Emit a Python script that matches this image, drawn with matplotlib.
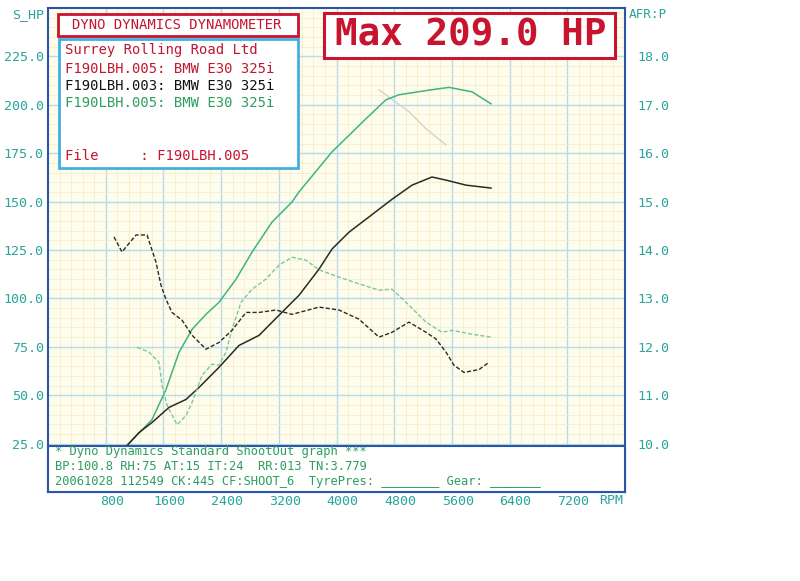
import matplotlib
matplotlib.use("Agg")
import matplotlib.pyplot as plt
import matplotlib.patches as mpatches
from matplotlib.ticker import MultipleLocator, FixedLocator
from matplotlib.transforms import ScaledTranslation

# ── Data read from the dyno sheet ─────────────────────────────────────────────
# Run F190LBH.005 (green) – power
green_rpm = [1095, 1442, 1636, 1816, 1997, 2191, 2371, 2607, 2829, 3106, 3383, 3480,
             3938, 4409, 4686, 4867, 5324, 5560, 5879, 6142]
green_hp  = [24.0, 37.4, 52.9, 72.1, 84.0, 91.8, 98.0, 109.9, 123.9, 139.4, 149.8, 155.0,
             175.7, 192.8, 202.6, 205.2, 207.8, 209.0, 206.7, 200.5]
# Run F190LBH.003 (black) – power
black_rpm = [1095, 1262, 1442, 1678, 1913, 2094, 2371, 2648, 2926, 3203, 3480, 3757,
             3938, 4173, 4409, 4770, 5047, 5324, 5518, 5796, 6142]
black_hp  = [24.0, 30.7, 35.9, 43.7, 47.8, 54.0, 64.4, 75.7, 80.9, 91.3, 101.6, 115.1,
             125.5, 134.2, 140.9, 151.2, 158.5, 162.7, 161.1, 158.5, 157.0]
# faint ghost trace near the top
ghost_rpm = [4589, 5005, 5241, 5518]
ghost_hp  = [207.8, 196.4, 187.6, 179.3]

# AFR traces
black_afr_rpm = [915, 1026, 1220, 1373, 1497, 1567, 1636, 1719, 1858, 1997, 2191, 2371,
                 2551, 2745, 2926, 3161, 3383, 3757, 4035, 4312, 4589, 4770, 5005, 5241,
                 5380, 5518, 5629, 5768, 5976, 6114]
black_afr     = [14.27, 13.96, 14.31, 14.31, 13.75, 13.27, 12.98, 12.71, 12.55, 12.24, 11.95, 12.09,
                 12.34, 12.71, 12.71, 12.76, 12.67, 12.82, 12.76, 12.57, 12.20, 12.30, 12.51, 12.30,
                 12.16, 11.89, 11.62, 11.47, 11.53, 11.68]
green_afr_rpm = [1234, 1400, 1539, 1581, 1650, 1789, 1913, 1997, 2135, 2274, 2371, 2468,
                 2551, 2676, 2829, 3023, 3203, 3383, 3577, 3757, 4035, 4312, 4589, 4770,
                 4964, 5241, 5463, 5601, 5879, 6142]
green_afr     = [11.99, 11.89, 11.68, 11.20, 10.79, 10.39, 10.58, 10.85, 11.41, 11.64, 11.62, 11.89,
                 12.36, 12.92, 13.19, 13.40, 13.69, 13.85, 13.79, 13.59, 13.44, 13.30, 13.17, 13.19,
                 12.92, 12.51, 12.30, 12.34, 12.26, 12.20]

hp_ticks  = [25, 50, 75, 100, 125, 150, 175, 200, 225]
afr_ticks = [10, 11, 12, 13, 14, 15, 16, 17, 18]
rpm_ticks = [800, 1600, 2400, 3200, 4000, 4800, 5600, 6400, 7200]

legend_lines = [
    ("Surrey Rolling Road Ltd",    "#c0182e"),
    ("F190LBH.005: BMW E30 325i",  "#c0182e"),
    ("F190LBH.003: BMW E30 325i",  "#111111"),
    ("F190LBH.005: BMW E30 325i",  "#2e9e5e"),
]
info_lines = [
    "* Dyno Dynamics Standard ShootOut graph ***",
    "BP:100.8 RH:75 AT:15 IT:24  RR:013 TN:3.779",
    "20061028 112549 CK:445 CF:SHOOT_6  TyrePres: ________ Gear: _______",
]

# ── Styles ────────────────────────────────────────────────────────────────────
MONO   = "DejaVu Sans Mono"
TEAL   = "#2aa59b"
RED    = "#c8142e"
FRAME  = "#2a56a8"
CYAN   = "#45aee0"
GREEN  = "#3fb482"
GREEN2 = "#7cc7a2"
DARK   = "#2a2a2a"

W, H = 800, 581
fig = plt.figure(figsize=(W / 100, H / 100), dpi=100)
fig.patch.set_facecolor("white")


def fx(px):
    return px / W


def fy(py):
    return 1 - py / H


ax = fig.add_axes([fx(48), fy(492), fx(625) - fx(48), fy(8) - fy(492)])
ax.set_facecolor("#fefcec")
ax.set_xlim(0, 8000)
ax.set_ylim(0, 250)

ax.xaxis.set_major_locator(FixedLocator(rpm_ticks))
ax.yaxis.set_major_locator(FixedLocator(hp_ticks))
ax.xaxis.set_minor_locator(MultipleLocator(160))
ax.yaxis.set_minor_locator(MultipleLocator(5))
ax.grid(which="minor", color="#f4ecc0", linewidth=0.5, zorder=0)
ax.grid(which="major", color="#b6dcea", linewidth=1.0, zorder=0)
ax.set_axisbelow(True)

ax.set_xticklabels([str(r) for r in rpm_ticks], fontsize=9.6, family=MONO, color=TEAL)
ax.set_yticklabels([f"{v:.1f}" for v in hp_ticks], fontsize=9.6, family=MONO, color=TEAL)
ax.tick_params(which="both", length=0)
ax.tick_params(axis="y", pad=3)
ax.tick_params(axis="x", pad=2)
for lbl in ax.get_xticklabels():
    lbl.set_transform(lbl.get_transform() + ScaledTranslation(6 / 100, 0, fig.dpi_scale_trans))
for sp in ax.spines.values():
    sp.set_color(FRAME)
    sp.set_linewidth(1.5)

ax.plot(ghost_rpm, ghost_hp, color="#cfcfcf", linewidth=0.9, zorder=2)
ax.plot(green_rpm, green_hp, color=GREEN, linewidth=1.1, zorder=3)
ax.plot(black_rpm, black_hp, color=DARK, linewidth=1.1, zorder=3)

ax2 = ax.twinx()
ax2.set_ylim(9, 19)
ax2.yaxis.set_major_locator(FixedLocator(afr_ticks))
ax2.set_yticklabels([f"{v:.1f}" for v in afr_ticks], fontsize=9.6, family=MONO, color=TEAL)
ax2.tick_params(length=0, pad=9)
for sp in ax2.spines.values():
    sp.set_visible(False)
ax2.plot(green_afr_rpm, green_afr, color=GREEN2, linewidth=1.0, linestyle=(0, (3, 1.5)))
ax2.plot(black_afr_rpm, black_afr, color=DARK, linewidth=1.0, linestyle=(0, (3, 1.5)))

# axis captions
fig.text(fx(28), fy(15), "S_HP", ha="center", va="center", fontsize=9.6, family=MONO, color=TEAL)
fig.text(fx(648), fy(15), "AFR:P", ha="center", va="center", fontsize=9.2, family=MONO, color=TEAL)
fig.text(fx(611), fy(500), "RPM", ha="center", va="center", fontsize=9.6, family=MONO, color=TEAL)

# ── Overlay boxes ─────────────────────────────────────────────────────────────
def box(x0, y0, x1, y1, edge, lw):
    fig.patches.append(mpatches.Rectangle((fx(x0), fy(y1)), fx(x1) - fx(x0), fy(y0) - fy(y1),
                                          transform=fig.transFigure, facecolor="white",
                                          edgecolor=edge, linewidth=lw, zorder=5))

box(59, 39, 298, 168, CYAN, 2.0)
box(58, 14, 298, 36, RED, 2.0)
fig.text(fx(177), fy(25), "DYNO DYNAMICS DYNAMOMETER", ha="center", va="center",
         fontsize=10, family=MONO, color=RED, zorder=6)
for (txt, col), yy in zip(legend_lines, [50, 69, 86, 103]):
    fig.text(fx(65), fy(yy), txt, ha="left", va="center", fontsize=10, family=MONO,
             color=col, zorder=6)
fig.text(fx(65), fy(156), "File     : F190LBH.005", ha="left", va="center", fontsize=10,
         family=MONO, color=RED, zorder=6)

box(324, 13, 615, 58, RED, 2.2)
fig.text(fx(471), fy(35), "Max 209.0 HP", ha="center", va="center", fontsize=27,
         family=MONO, fontweight="bold", color=RED, zorder=6)

box(48, 446, 625, 492, FRAME, 1.5)
for txt, yy in zip(info_lines, [452, 467, 482]):
    fig.text(fx(55), fy(yy), txt, ha="left", va="center", fontsize=8.7, family=MONO,
             color="#2e9e5e", zorder=6)

fig.savefig("out.png", dpi=100)
